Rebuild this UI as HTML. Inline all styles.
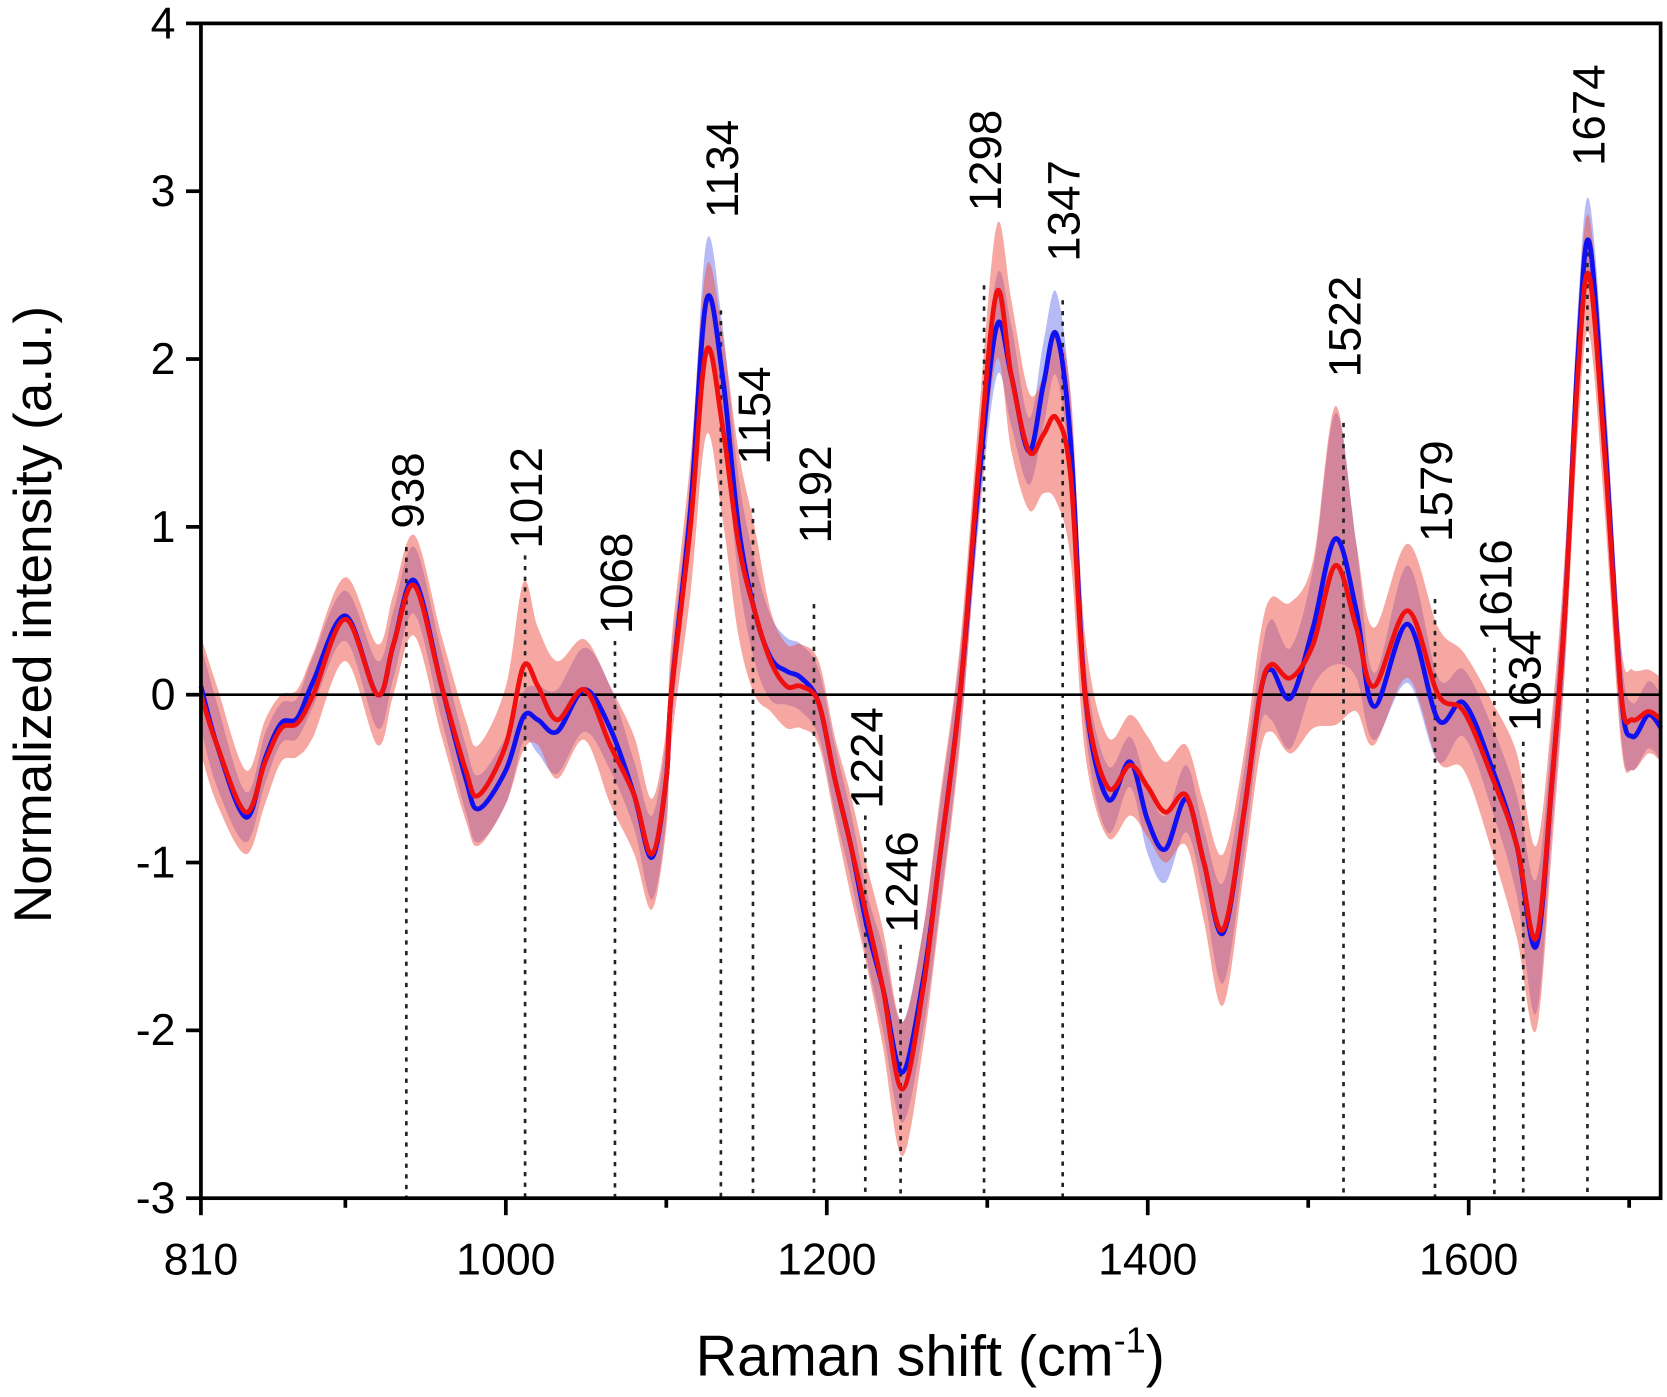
<!DOCTYPE html>
<html><head><meta charset="utf-8"><style>
html,body{margin:0;padding:0;background:#fff}
svg{display:block;font-family:"Liberation Sans",Arial,sans-serif}
</style></head><body>
<svg id="chart" width="1667" height="1397" viewBox="0 0 1568 1314" preserveAspectRatio="none">
<g id="bands"></g>
<g id="annot"></g>
<g id="lines"></g>
<g id="axes"></g>
</svg>
<script>
const xs = [810,820,838,850,860,870,880,900,920,930,943,960,975,983,1000,1011,1020,1032,1049,1065,1080,1091,1100,1103,1115,1125,1135,1145,1155,1165,1175,1184,1195,1205,1215,1225,1235,1247,1260,1270,1283,1295,1306,1315,1326,1335,1343,1352,1361,1375,1389,1400,1411,1424,1435,1447,1460,1470,1477,1489,1503,1517,1530,1541,1562,1581,1597,1615,1630,1642,1652,1660,1668,1675,1685,1695,1702,1712,1720];
const blueMean = [0.05,-0.3,-0.73,-0.38,-0.17,-0.14,0.08,0.47,0.0,0.3,0.68,0.05,-0.5,-0.68,-0.45,-0.13,-0.15,-0.22,0.03,-0.2,-0.6,-0.97,-0.5,0.0,1.1,2.35,1.9,1.0,0.5,0.22,0.14,0.1,-0.05,-0.5,-0.9,-1.38,-1.75,-2.25,-1.7,-1.0,0.0,1.3,2.2,1.9,1.45,1.85,2.15,1.5,0.0,-0.62,-0.4,-0.75,-0.92,-0.62,-1.0,-1.42,-0.7,0.0,0.15,-0.02,0.4,0.93,0.5,-0.07,0.42,-0.15,-0.05,-0.45,-0.9,-1.5,-0.5,0.5,2.0,2.7,1.5,0.0,-0.25,-0.12,-0.2];
const redMean = [0.0,-0.3,-0.7,-0.4,-0.2,-0.17,0.0,0.45,0.0,0.3,0.65,0.05,-0.45,-0.6,-0.3,0.17,0.05,-0.15,0.03,-0.3,-0.6,-0.95,-0.5,0.0,1.0,2.05,1.6,0.9,0.5,0.2,0.05,0.05,-0.05,-0.5,-0.9,-1.32,-1.75,-2.35,-1.75,-1.0,0.0,1.4,2.4,1.9,1.45,1.55,1.65,1.3,0.0,-0.55,-0.42,-0.55,-0.7,-0.6,-1.0,-1.4,-0.7,0.0,0.18,0.1,0.3,0.77,0.4,0.05,0.5,0.0,-0.1,-0.5,-0.9,-1.45,-0.5,0.5,1.9,2.5,1.4,0.0,-0.15,-0.1,-0.15];
const blueSd = [0.25,0.25,0.15,0.15,0.12,0.12,0.15,0.15,0.2,0.2,0.2,0.2,0.2,0.2,0.2,0.15,0.2,0.25,0.25,0.25,0.2,0.25,0.25,0.2,0.2,0.35,0.3,0.3,0.3,0.25,0.2,0.2,0.2,0.2,0.2,0.2,0.25,0.3,0.3,0.3,0.25,0.25,0.3,0.3,0.2,0.25,0.25,0.25,0.2,0.2,0.15,0.2,0.2,0.2,0.2,0.3,0.25,0.2,0.3,0.3,0.35,0.75,0.4,0.2,0.35,0.25,0.2,0.25,0.3,0.4,0.3,0.3,0.3,0.25,0.3,0.25,0.2,0.2,0.2];
const redSd = [0.35,0.35,0.25,0.25,0.2,0.2,0.25,0.25,0.3,0.3,0.3,0.3,0.3,0.3,0.35,0.5,0.35,0.35,0.3,0.35,0.35,0.33,0.3,0.3,0.4,0.5,0.55,0.55,0.5,0.3,0.25,0.25,0.25,0.25,0.3,0.3,0.35,0.4,0.35,0.35,0.3,0.3,0.4,0.45,0.35,0.35,0.5,0.5,0.35,0.3,0.3,0.3,0.3,0.3,0.35,0.45,0.35,0.35,0.4,0.45,0.5,0.95,0.5,0.35,0.4,0.4,0.35,0.45,0.55,0.55,0.4,0.35,0.35,0.35,0.35,0.3,0.3,0.25,0.25];
const peaks = [938,1012,1068,1134,1154,1192,1224,1246,1298,1347,1522,1579,1616,1634,1674];
const labelBase = [0.99,0.87,0.36,2.84,1.37,0.9,-0.68,-1.42,2.88,2.58,1.89,0.91,0.32,-0.22,3.15];
const lineTop = [0.88,0.83,0.32,2.29,1.11,0.54,-0.72,-1.49,2.44,2.35,1.62,0.57,0.28,-0.28,2.7];
const xTicks = [810,1000,1200,1400,1600];
const xMinor = [900,1100,1300,1500,1700];
const yTicks = [-3,-2,-1,0,1,2,3,4];

const L=189,R=1562,T=22,B=1127,XMIN=810,XMAX=1719.6,YMIN=-3,YMAX=4;
const X=v=>L+(v-XMIN)/(XMAX-XMIN)*(R-L);
const Y=v=>B-(v-YMIN)/(YMAX-YMIN)*(B-T);
const NS='http://www.w3.org/2000/svg';
function mk(tag,attrs,parent){const e=document.createElementNS(NS,tag);for(const k in attrs)e.setAttribute(k,attrs[k]);parent.appendChild(e);return e;}
function smooth(pts){
  let d='M'+pts[0][0].toFixed(1)+','+pts[0][1].toFixed(1);
  for(let i=0;i<pts.length-1;i++){
    const p0=pts[Math.max(0,i-1)],p1=pts[i],p2=pts[i+1],p3=pts[Math.min(pts.length-1,i+2)];
    const c1=[p1[0]+(p2[0]-p0[0])/6,p1[1]+(p2[1]-p0[1])/6];
    const c2=[p2[0]-(p3[0]-p1[0])/6,p2[1]-(p3[1]-p1[1])/6];
    d+=' C'+c1[0].toFixed(1)+','+c1[1].toFixed(1)+' '+c2[0].toFixed(1)+','+c2[1].toFixed(1)+' '+p2[0].toFixed(1)+','+p2[1].toFixed(1);
  }
  return d;
}
function band(mean,sd){
  const up=xs.map((x,i)=>[X(x),Y(mean[i]+sd[i])]);
  const lo=xs.map((x,i)=>[X(x),Y(mean[i]-sd[i])]).reverse();
  return smooth(up)+' L'+smooth(lo).slice(1)+' Z';
}
const bands=document.getElementById('bands');
const bb=mk('path',{d:band(blueMean,blueSd),fill:'rgb(110,120,235)','fill-opacity':'0.5'},bands);


const rb=mk('path',{d:band(redMean,redSd),fill:'rgb(240,80,70)','fill-opacity':'0.5'},bands);



const ann=document.getElementById('annot');
peaks.forEach((p,i)=>{
  const ln=mk('line',{x1:X(p),x2:X(p),y1:Y(lineTop[i]),y2:B,stroke:'#222','stroke-width':2.5,'stroke-dasharray':'4,6'},ann);
  
  
  const tx=X(p)+16, ty=Y(labelBase[i]);
  const t=mk('text',{x:tx,y:ty,transform:'rotate(-90 '+tx+' '+ty+')','font-size':43,fill:'#000'},ann);
  t.textContent=p;
  
  
});

const lines=document.getElementById('lines');
mk('line',{x1:L,x2:R,y1:Y(0),y2:Y(0),stroke:'#000','stroke-width':2.5},lines);
const bl=mk('path',{d:smooth(xs.map((x,i)=>[X(x),Y(blueMean[i])])),fill:'none',stroke:'#1010f0','stroke-width':4.5},lines);


const rl=mk('path',{d:smooth(xs.map((x,i)=>[X(x),Y(redMean[i])])),fill:'none',stroke:'#f01010','stroke-width':4.5},lines);



const ax=document.getElementById('axes');
const fr=mk('rect',{x:L,y:T,width:R-L,height:B-T,fill:'none',stroke:'#000','stroke-width':3.5},ax);


xTicks.forEach(v=>{
  mk('line',{x1:X(v),x2:X(v),y1:B,y2:B+16,stroke:'#000','stroke-width':3.5},ax);
  const t=mk('text',{x:X(v),y:B+72,'text-anchor':'middle','font-size':42},ax);
  t.textContent=v;
  
  
});
xMinor.forEach(v=>{mk('line',{x1:X(v),x2:X(v),y1:B,y2:B+9,stroke:'#000','stroke-width':3.5},ax);});
yTicks.forEach(v=>{
  mk('line',{x1:L-14,x2:L,y1:Y(v),y2:Y(v),stroke:'#000','stroke-width':3.5},ax);
  const t=mk('text',{x:L-24,y:Y(v)+14,'text-anchor':'end','font-size':42},ax);
  t.textContent=v;
  
  
});
const xt=mk('text',{x:875,y:1294,'text-anchor':'middle','font-size':54},ax);
xt.innerHTML='Raman shift (cm<tspan font-size="34" dy="-22">-1</tspan><tspan dy="22">)</tspan>';


const yt=mk('text',{x:48,y:578,'text-anchor':'middle','font-size':50,transform:'rotate(-90 48 578)'},ax);
yt.textContent='Normalized intensity (a.u.)';


</script>
</body></html>
